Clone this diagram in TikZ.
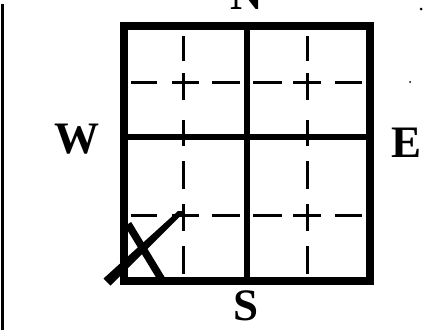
\documentclass[tikz,border=0pt]{standalone}
\usepackage{fontspec}
\setmainfont{Liberation Serif}
\begin{document}
\begin{tikzpicture}[x=1pt,y=-1pt,
  outer/.style={line width=7.5pt,line cap=rect},
  mid/.style={line width=6pt},
  dsh/.style={line width=3pt},
  lbl/.style={font=\fontsize{45}{45}\selectfont\bfseries,inner sep=0pt}]
\useasboundingbox (0,0) rectangle (425,330);
\clip (0,0) rectangle (425,330);
% left margin rule
\draw[line width=3pt] (2,4) -- (2,330);
% dashed guides
\foreach \y in {82,215}{
  \foreach \a/\b in {131/157,172/199,212/240,253/282,293/321,335/362}
    \draw[dsh] (\a,\y) -- (\b,\y);
}
\foreach \x in {183,307}{
  \foreach \a/\b in {36/61,73/100,120/146,161/189,204/231,246/274}
    \draw[dsh] (\x,\a) -- (\x,\b);
}
% main grid
\draw[mid] (247,26) -- (247,281);
\draw[mid] (124,137) -- (370,137);
\draw[outer] (124,26) rectangle (370,281);
% X mark
\fill (103.5,278.5) -- (110.5,285.5) -- (182,214.5) -- (185,211) -- (178,211) -- cycle;
\draw[line width=7.5pt] (128,224) -- (162,280);
% labels
\node[lbl] (N) at (247,-5) {N};
\node[lbl] (W) at (77,139) {W};
\node[lbl] (E) at (407,143) {E};
\node[lbl] (S) at (246,306) {S};
% specks
\fill (410,82) circle (1pt);
\fill (421,9) circle (1.5pt);
\end{tikzpicture}
\end{document}
